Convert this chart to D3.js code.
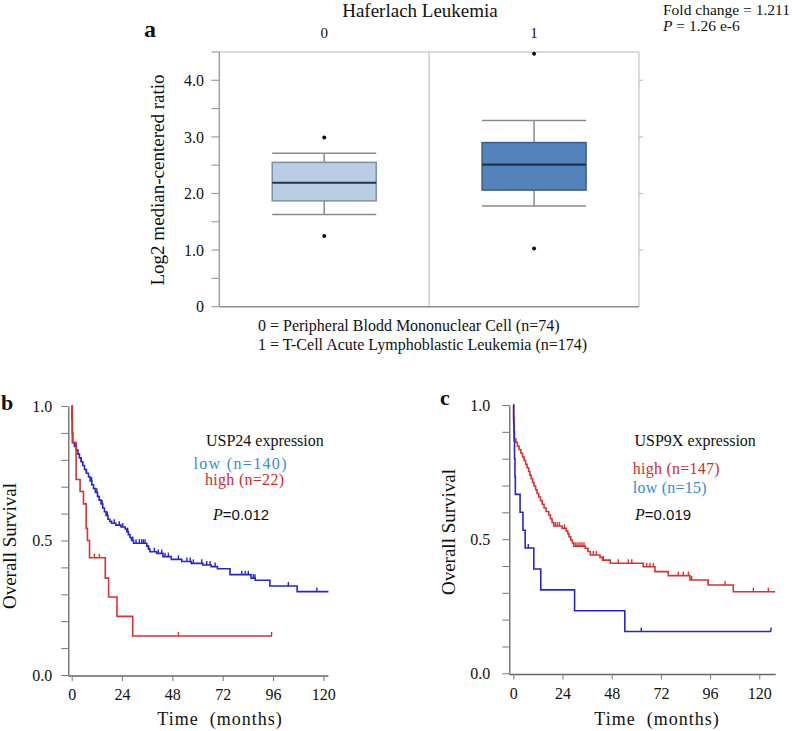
<!DOCTYPE html>
<html><head><meta charset="utf-8">
<script src="https://cdn.jsdelivr.net/npm/d3@7"></script>
<style>
body{margin:0;background:#fff}
svg{display:block}
text{font-family:"Liberation Serif","Times New Roman",serif;fill:#111}
</style>
</head><body>
<svg id="chart" width="795" height="731"></svg>
<script>
// ---------- Panel a: box plot data ----------
const boxGroups = ["0", "1"];
const boxQ1 = [1.87, 2.06];
const boxMedian = [2.19, 2.51];
const boxQ3 = [2.55, 2.90];
const boxWhiskLo = [1.63, 1.78];
const boxWhiskHi = [2.71, 3.29];
const boxOutliers = [[1.25, 2.99], [1.03, 4.47]];
const boxFills = ["#b9cde4", "#5383ba"];
const boxStrokes = ["#7d8ea3", "#3b5f8c"];
const boxYTicks = [0, 1, 2, 3, 4];
const groupNotes = ["0 = Peripheral Blodd Mononuclear Cell (n=74)", "1 = T-Cell Acute Lymphoblastic Leukemia (n=174)"];

// ---------- Panel b: USP24 Kaplan-Meier ----------
const bLowSteps = [[0,1],[0.15,0.95],[0.3,0.9],[0.5,0.864],[1.3,0.85],[2.2,0.836],[3.0,0.821],[3.7,0.807],[4.5,0.793],[5.3,0.779],[6.1,0.764],[7.0,0.75],[8.0,0.736],[8.8,0.721],[9.6,0.707],[10.4,0.693],[11.3,0.679],[12.3,0.664],[13.1,0.65],[14.0,0.636],[14.8,0.621],[15.6,0.607],[16.4,0.593],[17.3,0.579],[18.2,0.571],[19.0,0.564],[21.0,0.557],[23.5,0.55],[25.5,0.543],[26.3,0.533],[27.0,0.522],[27.8,0.511],[28.5,0.5],[29.5,0.49],[35.8,0.479],[36.6,0.468],[37.3,0.458],[40.5,0.452],[43.5,0.44],[47.5,0.43],[52.5,0.422],[57,0.415],[62.5,0.409],[66.5,0.403],[69.5,0.395],[75.5,0.373],[85.5,0.36],[87.5,0.352],[94.5,0.331],[107.5,0.31],[122.4,0.31]];
const bLowCensor = [2, 4.5, 7, 9.5, 12, 14.5, 17, 20.3, 22.7, 24.3, 26.7, 29.1, 30.7, 32.3, 33.4, 34.2, 35, 36.6, 39.4, 41.3, 42.9, 44.5, 46.1, 50.9, 54.9, 56.5, 58, 62, 64.4, 66, 68.4, 81.1, 82.7, 84.2, 86.6, 87.4, 103.3, 116.9];
const bHighSteps = [[0,1],[0.3,0.864],[2.1,0.727],[4.0,0.682],[5.6,0.636],[6.9,0.545],[7.5,0.5],[8.5,0.436],[16,0.36],[17.6,0.29],[21.6,0.218],[29.1,0.145],[95.5,0.145]];
const bHighCensor = [10.8, 13.2, 50.9, 95.3];

// ---------- Panel c: USP9X Kaplan-Meier ----------
const cHighSteps = [[0,1],[0.15,0.95],[0.3,0.9],[0.6,0.874],[1.2,0.861],[2.0,0.847],[2.8,0.834],[3.7,0.82],[4.5,0.806],[5.3,0.793],[6.0,0.779],[6.7,0.766],[7.5,0.752],[8.1,0.738],[8.7,0.725],[9.4,0.711],[10.1,0.698],[10.9,0.684],[11.6,0.67],[12.4,0.657],[13.3,0.643],[14.1,0.63],[15.0,0.616],[16.0,0.603],[17.3,0.59],[18.1,0.576],[18.9,0.562],[19.7,0.549],[23.8,0.54],[25.8,0.53],[26.6,0.52],[27.2,0.509],[28.0,0.497],[28.8,0.486],[29.5,0.474],[35.1,0.466],[36.4,0.454],[37.6,0.441],[42.3,0.432],[43.5,0.422],[47.3,0.41],[63.4,0.397],[69.1,0.379],[75.6,0.364],[86.2,0.348],[95.1,0.329],[107.3,0.304],[127.7,0.304]];
const cHighCensor = [20.5, 21.5, 22.5, 25, 30.5, 31.5, 32.5, 33.5, 34.5, 39, 40.5, 43.9, 51.2, 56.1, 57.8, 65.1, 66.7, 68.3, 80.5, 82.9, 85.4, 87, 95.1, 103.3, 117.1, 124.4];
const cLowSteps = [[0,1],[0.2,0.933],[0.4,0.867],[0.6,0.8],[0.8,0.733],[1.0,0.667],[3.3,0.6],[4.7,0.533],[5.8,0.467],[10.0,0.389],[13.4,0.311],[29.9,0.233],[54.4,0.156],[125.7,0.156]];
const cLowCensor = [7.3, 62.4, 125.7];

const kmYTicks = d3.range(0, 11).map(d => d / 10);
const kmYLabels = [0, 0.5, 1];
const kmXTicks = [0, 24, 48, 72, 96, 120];

const BLUE = "#2626cc", RED = "#d83232", BLUE_TXT = "#3a8ad2", RED_TXT = "#d42b2b";

const svg = d3.select("#chart");

// ================= Panel a =================
const aLeft = 219.3, aRight = 639, aTop = 52, aBottom = 306.7;
const yA = d3.scaleLinear().domain([0, 4.5]).range([aBottom, aTop]);
const xA = d3.scaleBand().domain(boxGroups).range([aLeft, aRight]);
const gA = svg.append("g");

// frame
gA.append("line").attr("x1", aLeft).attr("x2", aRight).attr("y1", aTop).attr("y2", aTop).attr("stroke", "#cfcfcf").attr("stroke-width", 1.5);
gA.append("line").attr("x1", aRight).attr("x2", aRight).attr("y1", aTop).attr("y2", aBottom).attr("stroke", "#cfcfcf").attr("stroke-width", 1.5);
gA.append("line").attr("x1", xA("1")).attr("x2", xA("1")).attr("y1", aTop).attr("y2", aBottom).attr("stroke", "#cfcfcf").attr("stroke-width", 1.5);
gA.append("line").attr("x1", aLeft).attr("x2", aLeft).attr("y1", aTop).attr("y2", aBottom).attr("stroke", "#a0a0a0").attr("stroke-width", 1.5);
gA.append("line").attr("x1", aLeft).attr("x2", aRight).attr("y1", aBottom).attr("y2", aBottom).attr("stroke", "#8c8c8c").attr("stroke-width", 1.5);

// left ticks every 0.5
gA.selectAll(".lt").data(d3.range(0, 4.51, 0.5)).join("line")
  .attr("x1", aLeft - 8).attr("x2", aLeft).attr("y1", d => yA(d)).attr("y2", d => yA(d))
  .attr("stroke", "#a0a0a0").attr("stroke-width", 1.2);
// right ticks
gA.selectAll(".rt").data(boxYTicks.slice(1)).join("line")
  .attr("x1", aRight).attr("x2", aRight + 4).attr("y1", d => yA(d)).attr("y2", d => yA(d))
  .attr("stroke", "#c0c0c0").attr("stroke-width", 1.2);
gA.selectAll(".yl").data(boxYTicks).join("text")
  .attr("x", 204).attr("y", d => yA(d)).attr("dy", "0.35em").attr("text-anchor", "end")
  .style("font-size", "16px").text(d => d === 0 ? "0" : d3.format(".1f")(d));

// axis title
gA.append("text").attr("transform", `translate(164,180) rotate(-90)`).attr("text-anchor", "middle")
  .style("font-size", "19px").text("Log2 median-centered ratio");
// chart title
gA.append("text").attr("x", 420).attr("y", 17).attr("text-anchor", "middle").style("font-size", "19px").text("Haferlach Leukemia");
// category labels
gA.selectAll(".cl").data(boxGroups).join("text")
  .attr("x", d => xA(d) + xA.bandwidth() / 2).attr("y", 38).attr("text-anchor", "middle")
  .style("font-size", "15px").text(d => d);
// panel letter
gA.append("text").attr("x", 144).attr("y", 37).style("font-size", "24px").style("font-weight", "bold").text("a");
// fold change
gA.append("text").attr("x", 663).attr("y", 15).style("font-size", "15.5px").text("Fold change = 1.211");
const pt = gA.append("text").attr("x", 663).attr("y", 31).style("font-size", "15.5px");
pt.append("tspan").style("font-style", "italic").text("P");
pt.append("tspan").text(" = 1.26 e-6");
// notes
gA.selectAll(".nt").data(groupNotes).join("text")
  .attr("x", 258).attr("y", (d, i) => 331 + i * 19).style("font-size", "16px").text(d => d);

// boxes
const boxW = 104;
boxGroups.forEach((g, i) => {
  const cx = xA(g) + xA.bandwidth() / 2;
  const bx = gA.append("g");
  bx.append("line").attr("x1", cx).attr("x2", cx).attr("y1", yA(boxWhiskLo[i])).attr("y2", yA(boxQ1[i])).attr("stroke", "#8a8a8a").attr("stroke-width", 1.5);
  bx.append("line").attr("x1", cx).attr("x2", cx).attr("y1", yA(boxQ3[i])).attr("y2", yA(boxWhiskHi[i])).attr("stroke", "#8a8a8a").attr("stroke-width", 1.5);
  [boxWhiskLo[i], boxWhiskHi[i]].forEach(v => {
    bx.append("line").attr("x1", cx - boxW / 2).attr("x2", cx + boxW / 2).attr("y1", yA(v)).attr("y2", yA(v)).attr("stroke", "#8a8a8a").attr("stroke-width", 1.5);
  });
  bx.append("rect").attr("x", cx - boxW / 2).attr("width", boxW)
    .attr("y", yA(boxQ3[i])).attr("height", yA(boxQ1[i]) - yA(boxQ3[i]))
    .attr("fill", boxFills[i]).attr("stroke", boxStrokes[i]).attr("stroke-width", 1.5);
  bx.append("line").attr("x1", cx - boxW / 2).attr("x2", cx + boxW / 2).attr("y1", yA(boxMedian[i])).attr("y2", yA(boxMedian[i]))
    .attr("stroke", "#1f3550").attr("stroke-width", 2.2);
  bx.selectAll("circle").data(boxOutliers[i]).join("circle")
    .attr("cx", cx).attr("cy", d => yA(d)).attr("r", 2).attr("fill", "#111");
});

// ================= KM panels =================
function stepValue(steps, t) {
  let v = steps[0][1];
  for (const [tt, s] of steps) { if (tt <= t) v = s; else break; }
  return v;
}

function kmPanel(cfg) {
  const g = svg.append("g");
  const x = d3.scaleLinear().domain(cfg.xDomain).range(cfg.xRange);
  const y = d3.scaleLinear().domain([0, 1]).range(cfg.yRange);
  // y axis
  const ya = d3.axisLeft(y).tickValues(kmYTicks).tickSize(7).tickSizeOuter(0)
    .tickFormat(d => kmYLabels.some(v => Math.abs(v - d) < 1e-6) ? d3.format(".1f")(d) : "");
  const yg = g.append("g").attr("transform", `translate(${cfg.axisX},0)`).call(ya);
  yg.select(".domain").attr("stroke", "#666").attr("stroke-width", 1.3);
  yg.selectAll(".tick line").attr("stroke", "#777");
  yg.selectAll(".tick text").style("font-size", "16px").style("font-family", "Liberation Serif, serif").attr("fill", "#222").attr("x", -(cfg.labelGap));
  // x axis
  const xa = d3.axisBottom(x).tickValues(kmXTicks).tickSize(5).tickSizeOuter(0);
  const xg = g.append("g").attr("transform", `translate(0,${cfg.axisY})`).call(xa);
  xg.select(".domain").attr("d", `M${cfg.axisX},0H${cfg.xRange[1]}`).attr("stroke", "#666").attr("stroke-width", 1.3);
  xg.selectAll(".tick line").attr("stroke", "#777");
  xg.selectAll(".tick text").style("font-size", "16px").style("font-family", "Liberation Serif, serif").attr("fill", "#222").attr("y", 13);

  const line = d3.line().x(d => x(d[0])).y(d => y(d[1])).curve(d3.curveStepAfter);
  cfg.curves.forEach(c => {
    g.append("path").datum(c.steps).attr("d", line).attr("fill", "none").attr("stroke", c.color).attr("stroke-width", 1.6);
    g.selectAll(null).data(c.censor).join("line")
      .attr("x1", d => x(d)).attr("x2", d => x(d))
      .attr("y1", d => y(stepValue(c.steps, d)) - 4).attr("y2", d => y(stepValue(c.steps, d)))
      .attr("stroke", c.color).attr("stroke-width", 1.4);
  });
  // labels
  g.append("text").attr("transform", `translate(${cfg.yTitleX},${cfg.yTitleY}) rotate(-90)`).attr("text-anchor", "middle")
    .style("font-size", "19px").text("Overall Survival");
  g.append("text").attr("x", cfg.xTitleX).attr("y", 725).attr("text-anchor", "middle").style("font-size", "18px")
    .style("letter-spacing", "1px").attr("xml:space", "preserve").text("Time  (months)");
  g.append("text").attr("x", cfg.letterX).attr("y", cfg.letterY).style("font-size", "22px").style("font-weight", "bold").text(cfg.letter);
  g.append("text").attr("x", cfg.legX).attr("y", 446).style("font-size", "16px").text(cfg.legTitle);
  cfg.legItems.forEach(it => {
    const t = g.append("text").attr("x", it.x).attr("y", it.y).style("font-size", "16px").style("fill", it.color).text(it.text);
    if (it.len) t.attr("textLength", it.len).attr("lengthAdjust", "spacing");
  });
  const p = g.append("text").attr("x", cfg.pX).attr("y", 520).style("font-size", "16px");
  p.append("tspan").style("font-style", "italic").style("font-family", "Liberation Serif, serif").text("P");
  p.append("tspan").style("font-family", "Liberation Sans, Arial, sans-serif").style("font-size", "15px").text("=" + cfg.pVal);
}

kmPanel({
  xDomain: [0, 122.4], xRange: [71.7, 328.4], yRange: [675, 406], axisX: 68.3, axisY: 676, labelGap: 16,
  curves: [
    { steps: bLowSteps, censor: bLowCensor, color: BLUE },
    { steps: bHighSteps, censor: bHighCensor, color: RED }
  ],
  yTitleX: 16, yTitleY: 546, xTitleX: 220, letter: "b", letterX: 1, letterY: 410,
  legX: 206, legTitle: "USP24 expression",
  legItems: [
    { text: "low (n=140)", x: 193.5, y: 469, color: BLUE_TXT, len: 93 },
    { text: "high (n=22)", x: 205, y: 485, color: RED_TXT, len: 79 }
  ],
  pX: 213, pVal: "0.012"
});

kmPanel({
  xDomain: [0, 128], xRange: [513.3, 775.7], yRange: [673.3, 405], axisX: 509.3, axisY: 674.5, labelGap: 19,
  curves: [
    { steps: cHighSteps, censor: cHighCensor, color: RED },
    { steps: cLowSteps, censor: cLowCensor, color: BLUE }
  ],
  yTitleX: 455, yTitleY: 532, xTitleX: 657, letter: "c", letterX: 440, letterY: 405,
  legX: 634.5, legTitle: "USP9X expression",
  legItems: [
    { text: "high (n=147)", x: 632.7, y: 474, color: RED_TXT, len: 87 },
    { text: "low (n=15)", x: 632.7, y: 493, color: BLUE_TXT, len: 74 }
  ],
  pX: 635, pVal: "0.019"
});
</script>
</body></html>
